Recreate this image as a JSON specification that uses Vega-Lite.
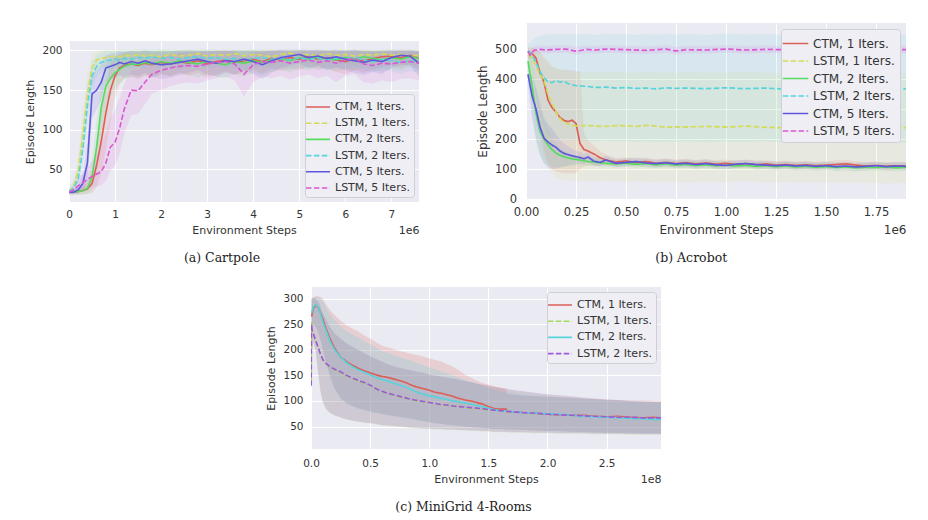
{
  "$schema": "https://vega.github.io/schema/vega-lite/v6.json",
  "background": "white",
  "padding": {"left": 24, "top": 23, "right": 5, "bottom": 5},
  "config": {
    "font": "DejaVu Sans",
    "view": {"stroke": null},
    "axis": {
      "domain": false,
      "ticks": false,
      "gridColor": "#ffffff",
      "gridWidth": 1,
      "labelFont": "DejaVu Sans",
      "titleFont": "DejaVu Sans",
      "labelColor": "#333333",
      "titleColor": "#333333",
      "titleFontWeight": "normal",
      "labelFlush": false,
      "labelOverlap": false
    },
    "legend": {
      "fillColor": "#eeeef4",
      "strokeColor": "#cfcfd7",
      "cornerRadius": 3,
      "padding": 4,
      "rowPadding": 2.2,
      "symbolSize": 256,
      "symbolStrokeWidth": 1.6,
      "labelOffset": 8,
      "labelFont": "DejaVu Sans",
      "labelColor": "#333333",
      "labelLimit": 200
    },
    "title": {
      "orient": "bottom",
      "font": "DejaVu Serif",
      "fontSize": 12.5,
      "fontWeight": "normal",
      "color": "#222222",
      "offset": 16,
      "anchor": "middle",
      "frame": "bounds"
    }
  },
  "datasets": {
    "cartpole": [
      {"series":"CTM, 1 Iters.","x":0,"y":21,"lo":18,"hi":24},
      {"series":"CTM, 1 Iters.","x":0.1,"y":21,"lo":18,"hi":24},
      {"series":"CTM, 1 Iters.","x":0.2,"y":22,"lo":18,"hi":26},
      {"series":"CTM, 1 Iters.","x":0.3,"y":23,"lo":18,"hi":29},
      {"series":"CTM, 1 Iters.","x":0.4,"y":25,"lo":19,"hi":33},
      {"series":"CTM, 1 Iters.","x":0.5,"y":32,"lo":20,"hi":48},
      {"series":"CTM, 1 Iters.","x":0.6,"y":55,"lo":28,"hi":85},
      {"series":"CTM, 1 Iters.","x":0.7,"y":85,"lo":45,"hi":125},
      {"series":"CTM, 1 Iters.","x":0.8,"y":121,"lo":75,"hi":160},
      {"series":"CTM, 1 Iters.","x":0.9,"y":150,"lo":110,"hi":182},
      {"series":"CTM, 1 Iters.","x":1.0,"y":168,"lo":140,"hi":192},
      {"series":"CTM, 1 Iters.","x":1.1,"y":178,"lo":158,"hi":196},
      {"series":"CTM, 1 Iters.","x":1.2,"y":181,"lo":165,"hi":198},
      {"series":"CTM, 1 Iters.","x":1.35,"y":183,"lo":167,"hi":199},
      {"series":"CTM, 1 Iters.","x":1.5,"y":181,"lo":164,"hi":198},
      {"series":"CTM, 1 Iters.","x":1.65,"y":184,"lo":168,"hi":200},
      {"series":"CTM, 1 Iters.","x":1.8,"y":182,"lo":166,"hi":199},
      {"series":"CTM, 1 Iters.","x":2.0,"y":185,"lo":170,"hi":200},
      {"series":"CTM, 1 Iters.","x":2.2,"y":183,"lo":167,"hi":199},
      {"series":"CTM, 1 Iters.","x":2.4,"y":186,"lo":171,"hi":200},
      {"series":"CTM, 1 Iters.","x":2.6,"y":184,"lo":168,"hi":200},
      {"series":"CTM, 1 Iters.","x":2.8,"y":187,"lo":172,"hi":200},
      {"series":"CTM, 1 Iters.","x":3.0,"y":183,"lo":166,"hi":199},
      {"series":"CTM, 1 Iters.","x":3.2,"y":186,"lo":170,"hi":200},
      {"series":"CTM, 1 Iters.","x":3.4,"y":188,"lo":174,"hi":200},
      {"series":"CTM, 1 Iters.","x":3.6,"y":185,"lo":169,"hi":200},
      {"series":"CTM, 1 Iters.","x":3.8,"y":187,"lo":172,"hi":200},
      {"series":"CTM, 1 Iters.","x":4.0,"y":189,"lo":175,"hi":200},
      {"series":"CTM, 1 Iters.","x":4.2,"y":186,"lo":171,"hi":200},
      {"series":"CTM, 1 Iters.","x":4.4,"y":190,"lo":177,"hi":200},
      {"series":"CTM, 1 Iters.","x":4.6,"y":188,"lo":174,"hi":200},
      {"series":"CTM, 1 Iters.","x":4.8,"y":191,"lo":178,"hi":200},
      {"series":"CTM, 1 Iters.","x":5.0,"y":189,"lo":175,"hi":200},
      {"series":"CTM, 1 Iters.","x":5.2,"y":192,"lo":180,"hi":200},
      {"series":"CTM, 1 Iters.","x":5.4,"y":189,"lo":175,"hi":200},
      {"series":"CTM, 1 Iters.","x":5.6,"y":191,"lo":178,"hi":200},
      {"series":"CTM, 1 Iters.","x":5.8,"y":188,"lo":173,"hi":200},
      {"series":"CTM, 1 Iters.","x":6.0,"y":186,"lo":170,"hi":200},
      {"series":"CTM, 1 Iters.","x":6.2,"y":189,"lo":175,"hi":200},
      {"series":"CTM, 1 Iters.","x":6.4,"y":187,"lo":172,"hi":200},
      {"series":"CTM, 1 Iters.","x":6.6,"y":190,"lo":176,"hi":200},
      {"series":"CTM, 1 Iters.","x":6.8,"y":192,"lo":179,"hi":200},
      {"series":"CTM, 1 Iters.","x":7.0,"y":193,"lo":181,"hi":200},
      {"series":"CTM, 1 Iters.","x":7.2,"y":191,"lo":178,"hi":200},
      {"series":"CTM, 1 Iters.","x":7.4,"y":194,"lo":183,"hi":200},
      {"series":"CTM, 1 Iters.","x":7.6,"y":190,"lo":176,"hi":200},

      {"series":"LSTM, 1 Iters.","x":0,"y":21,"lo":18,"hi":25},
      {"series":"LSTM, 1 Iters.","x":0.1,"y":28,"lo":22,"hi":36},
      {"series":"LSTM, 1 Iters.","x":0.2,"y":48,"lo":35,"hi":65},
      {"series":"LSTM, 1 Iters.","x":0.3,"y":95,"lo":70,"hi":125},
      {"series":"LSTM, 1 Iters.","x":0.4,"y":145,"lo":120,"hi":170},
      {"series":"LSTM, 1 Iters.","x":0.5,"y":178,"lo":160,"hi":195},
      {"series":"LSTM, 1 Iters.","x":0.6,"y":188,"lo":175,"hi":200},
      {"series":"LSTM, 1 Iters.","x":0.7,"y":190,"lo":178,"hi":201},
      {"series":"LSTM, 1 Iters.","x":0.8,"y":191,"lo":180,"hi":201},
      {"series":"LSTM, 1 Iters.","x":0.9,"y":192,"lo":181,"hi":201},
      {"series":"LSTM, 1 Iters.","x":1.0,"y":193,"lo":182,"hi":201},
      {"series":"LSTM, 1 Iters.","x":1.1,"y":192,"lo":180,"hi":201},
      {"series":"LSTM, 1 Iters.","x":1.2,"y":194,"lo":183,"hi":201},
      {"series":"LSTM, 1 Iters.","x":1.35,"y":193,"lo":181,"hi":201},
      {"series":"LSTM, 1 Iters.","x":1.5,"y":195,"lo":184,"hi":201},
      {"series":"LSTM, 1 Iters.","x":1.65,"y":193,"lo":181,"hi":201},
      {"series":"LSTM, 1 Iters.","x":1.8,"y":194,"lo":183,"hi":201},
      {"series":"LSTM, 1 Iters.","x":2.0,"y":192,"lo":180,"hi":201},
      {"series":"LSTM, 1 Iters.","x":2.2,"y":195,"lo":184,"hi":201},
      {"series":"LSTM, 1 Iters.","x":2.4,"y":193,"lo":181,"hi":201},
      {"series":"LSTM, 1 Iters.","x":2.6,"y":194,"lo":183,"hi":201},
      {"series":"LSTM, 1 Iters.","x":2.8,"y":196,"lo":186,"hi":201},
      {"series":"LSTM, 1 Iters.","x":3.0,"y":193,"lo":181,"hi":201},
      {"series":"LSTM, 1 Iters.","x":3.2,"y":195,"lo":184,"hi":201},
      {"series":"LSTM, 1 Iters.","x":3.4,"y":194,"lo":183,"hi":201},
      {"series":"LSTM, 1 Iters.","x":3.6,"y":196,"lo":186,"hi":201},
      {"series":"LSTM, 1 Iters.","x":3.8,"y":193,"lo":181,"hi":201},
      {"series":"LSTM, 1 Iters.","x":4.0,"y":195,"lo":184,"hi":201},
      {"series":"LSTM, 1 Iters.","x":4.2,"y":194,"lo":183,"hi":201},
      {"series":"LSTM, 1 Iters.","x":4.4,"y":192,"lo":180,"hi":201},
      {"series":"LSTM, 1 Iters.","x":4.6,"y":195,"lo":184,"hi":201},
      {"series":"LSTM, 1 Iters.","x":4.8,"y":197,"lo":187,"hi":201},
      {"series":"LSTM, 1 Iters.","x":5.0,"y":194,"lo":183,"hi":201},
      {"series":"LSTM, 1 Iters.","x":5.2,"y":195,"lo":184,"hi":201},
      {"series":"LSTM, 1 Iters.","x":5.4,"y":193,"lo":181,"hi":201},
      {"series":"LSTM, 1 Iters.","x":5.6,"y":196,"lo":186,"hi":201},
      {"series":"LSTM, 1 Iters.","x":5.8,"y":194,"lo":183,"hi":201},
      {"series":"LSTM, 1 Iters.","x":6.0,"y":195,"lo":184,"hi":201},
      {"series":"LSTM, 1 Iters.","x":6.2,"y":193,"lo":181,"hi":201},
      {"series":"LSTM, 1 Iters.","x":6.4,"y":195,"lo":184,"hi":201},
      {"series":"LSTM, 1 Iters.","x":6.6,"y":194,"lo":183,"hi":201},
      {"series":"LSTM, 1 Iters.","x":6.8,"y":196,"lo":186,"hi":201},
      {"series":"LSTM, 1 Iters.","x":7.0,"y":194,"lo":183,"hi":201},
      {"series":"LSTM, 1 Iters.","x":7.2,"y":195,"lo":184,"hi":201},
      {"series":"LSTM, 1 Iters.","x":7.4,"y":193,"lo":181,"hi":201},
      {"series":"LSTM, 1 Iters.","x":7.6,"y":194,"lo":183,"hi":201},

      {"series":"CTM, 2 Iters.","x":0,"y":21,"lo":18,"hi":24},
      {"series":"CTM, 2 Iters.","x":0.1,"y":21,"lo":18,"hi":24},
      {"series":"CTM, 2 Iters.","x":0.2,"y":22,"lo":18,"hi":26},
      {"series":"CTM, 2 Iters.","x":0.3,"y":23,"lo":18,"hi":30},
      {"series":"CTM, 2 Iters.","x":0.4,"y":26,"lo":19,"hi":38},
      {"series":"CTM, 2 Iters.","x":0.5,"y":40,"lo":24,"hi":62},
      {"series":"CTM, 2 Iters.","x":0.6,"y":78,"lo":45,"hi":112},
      {"series":"CTM, 2 Iters.","x":0.7,"y":128,"lo":95,"hi":158},
      {"series":"CTM, 2 Iters.","x":0.8,"y":155,"lo":128,"hi":180},
      {"series":"CTM, 2 Iters.","x":0.9,"y":165,"lo":142,"hi":188},
      {"series":"CTM, 2 Iters.","x":1.0,"y":172,"lo":152,"hi":192},
      {"series":"CTM, 2 Iters.","x":1.1,"y":176,"lo":158,"hi":195},
      {"series":"CTM, 2 Iters.","x":1.2,"y":180,"lo":163,"hi":197},
      {"series":"CTM, 2 Iters.","x":1.35,"y":183,"lo":167,"hi":199},
      {"series":"CTM, 2 Iters.","x":1.5,"y":182,"lo":165,"hi":199},
      {"series":"CTM, 2 Iters.","x":1.65,"y":185,"lo":169,"hi":200},
      {"series":"CTM, 2 Iters.","x":1.8,"y":183,"lo":166,"hi":199},
      {"series":"CTM, 2 Iters.","x":2.0,"y":186,"lo":170,"hi":200},
      {"series":"CTM, 2 Iters.","x":2.2,"y":184,"lo":168,"hi":200},
      {"series":"CTM, 2 Iters.","x":2.4,"y":187,"lo":172,"hi":200},
      {"series":"CTM, 2 Iters.","x":2.6,"y":185,"lo":169,"hi":200},
      {"series":"CTM, 2 Iters.","x":2.8,"y":183,"lo":166,"hi":199},
      {"series":"CTM, 2 Iters.","x":3.0,"y":186,"lo":170,"hi":200},
      {"series":"CTM, 2 Iters.","x":3.2,"y":184,"lo":167,"hi":200},
      {"series":"CTM, 2 Iters.","x":3.4,"y":182,"lo":165,"hi":199},
      {"series":"CTM, 2 Iters.","x":3.6,"y":186,"lo":170,"hi":200},
      {"series":"CTM, 2 Iters.","x":3.8,"y":184,"lo":167,"hi":200},
      {"series":"CTM, 2 Iters.","x":4.0,"y":187,"lo":172,"hi":200},
      {"series":"CTM, 2 Iters.","x":4.2,"y":185,"lo":169,"hi":200},
      {"series":"CTM, 2 Iters.","x":4.4,"y":188,"lo":173,"hi":200},
      {"series":"CTM, 2 Iters.","x":4.6,"y":190,"lo":176,"hi":200},
      {"series":"CTM, 2 Iters.","x":4.8,"y":187,"lo":172,"hi":200},
      {"series":"CTM, 2 Iters.","x":5.0,"y":191,"lo":177,"hi":200},
      {"series":"CTM, 2 Iters.","x":5.2,"y":189,"lo":175,"hi":200},
      {"series":"CTM, 2 Iters.","x":5.4,"y":192,"lo":179,"hi":200},
      {"series":"CTM, 2 Iters.","x":5.6,"y":190,"lo":176,"hi":200},
      {"series":"CTM, 2 Iters.","x":5.8,"y":188,"lo":173,"hi":200},
      {"series":"CTM, 2 Iters.","x":6.0,"y":191,"lo":177,"hi":200},
      {"series":"CTM, 2 Iters.","x":6.2,"y":189,"lo":175,"hi":200},
      {"series":"CTM, 2 Iters.","x":6.4,"y":192,"lo":179,"hi":200},
      {"series":"CTM, 2 Iters.","x":6.6,"y":190,"lo":176,"hi":200},
      {"series":"CTM, 2 Iters.","x":6.8,"y":188,"lo":173,"hi":200},
      {"series":"CTM, 2 Iters.","x":7.0,"y":191,"lo":177,"hi":200},
      {"series":"CTM, 2 Iters.","x":7.2,"y":189,"lo":175,"hi":200},
      {"series":"CTM, 2 Iters.","x":7.4,"y":192,"lo":179,"hi":200},
      {"series":"CTM, 2 Iters.","x":7.6,"y":190,"lo":176,"hi":200},

      {"series":"LSTM, 2 Iters.","x":0,"y":22,"lo":18,"hi":27},
      {"series":"LSTM, 2 Iters.","x":0.1,"y":26,"lo":20,"hi":34},
      {"series":"LSTM, 2 Iters.","x":0.2,"y":38,"lo":28,"hi":52},
      {"series":"LSTM, 2 Iters.","x":0.3,"y":75,"lo":55,"hi":100},
      {"series":"LSTM, 2 Iters.","x":0.4,"y":130,"lo":105,"hi":155},
      {"series":"LSTM, 2 Iters.","x":0.5,"y":168,"lo":150,"hi":185},
      {"series":"LSTM, 2 Iters.","x":0.6,"y":180,"lo":166,"hi":194},
      {"series":"LSTM, 2 Iters.","x":0.7,"y":185,"lo":172,"hi":198},
      {"series":"LSTM, 2 Iters.","x":0.8,"y":187,"lo":175,"hi":200},
      {"series":"LSTM, 2 Iters.","x":0.9,"y":188,"lo":176,"hi":200},
      {"series":"LSTM, 2 Iters.","x":1.0,"y":189,"lo":177,"hi":200},
      {"series":"LSTM, 2 Iters.","x":1.1,"y":188,"lo":176,"hi":200},
      {"series":"LSTM, 2 Iters.","x":1.2,"y":190,"lo":178,"hi":201},
      {"series":"LSTM, 2 Iters.","x":1.35,"y":189,"lo":177,"hi":200},
      {"series":"LSTM, 2 Iters.","x":1.5,"y":191,"lo":179,"hi":201},
      {"series":"LSTM, 2 Iters.","x":1.65,"y":190,"lo":178,"hi":201},
      {"series":"LSTM, 2 Iters.","x":1.8,"y":192,"lo":181,"hi":201},
      {"series":"LSTM, 2 Iters.","x":2.0,"y":190,"lo":178,"hi":201},
      {"series":"LSTM, 2 Iters.","x":2.2,"y":191,"lo":179,"hi":201},
      {"series":"LSTM, 2 Iters.","x":2.4,"y":189,"lo":177,"hi":200},
      {"series":"LSTM, 2 Iters.","x":2.6,"y":191,"lo":179,"hi":201},
      {"series":"LSTM, 2 Iters.","x":2.8,"y":192,"lo":181,"hi":201},
      {"series":"LSTM, 2 Iters.","x":3.0,"y":190,"lo":178,"hi":201},
      {"series":"LSTM, 2 Iters.","x":3.2,"y":191,"lo":179,"hi":201},
      {"series":"LSTM, 2 Iters.","x":3.4,"y":189,"lo":177,"hi":200},
      {"series":"LSTM, 2 Iters.","x":3.6,"y":190,"lo":178,"hi":201},
      {"series":"LSTM, 2 Iters.","x":3.8,"y":188,"lo":175,"hi":200},
      {"series":"LSTM, 2 Iters.","x":4.0,"y":190,"lo":178,"hi":201},
      {"series":"LSTM, 2 Iters.","x":4.2,"y":191,"lo":179,"hi":201},
      {"series":"LSTM, 2 Iters.","x":4.4,"y":189,"lo":177,"hi":200},
      {"series":"LSTM, 2 Iters.","x":4.6,"y":190,"lo":178,"hi":201},
      {"series":"LSTM, 2 Iters.","x":4.8,"y":188,"lo":175,"hi":200},
      {"series":"LSTM, 2 Iters.","x":5.0,"y":191,"lo":179,"hi":201},
      {"series":"LSTM, 2 Iters.","x":5.2,"y":189,"lo":177,"hi":200},
      {"series":"LSTM, 2 Iters.","x":5.4,"y":190,"lo":178,"hi":201},
      {"series":"LSTM, 2 Iters.","x":5.6,"y":188,"lo":175,"hi":200},
      {"series":"LSTM, 2 Iters.","x":5.8,"y":190,"lo":178,"hi":201},
      {"series":"LSTM, 2 Iters.","x":6.0,"y":189,"lo":177,"hi":200},
      {"series":"LSTM, 2 Iters.","x":6.2,"y":191,"lo":179,"hi":201},
      {"series":"LSTM, 2 Iters.","x":6.4,"y":188,"lo":175,"hi":200},
      {"series":"LSTM, 2 Iters.","x":6.6,"y":186,"lo":172,"hi":199},
      {"series":"LSTM, 2 Iters.","x":6.8,"y":189,"lo":177,"hi":200},
      {"series":"LSTM, 2 Iters.","x":7.0,"y":187,"lo":174,"hi":200},
      {"series":"LSTM, 2 Iters.","x":7.2,"y":185,"lo":170,"hi":199},
      {"series":"LSTM, 2 Iters.","x":7.4,"y":187,"lo":174,"hi":200},
      {"series":"LSTM, 2 Iters.","x":7.6,"y":186,"lo":172,"hi":199},

      {"series":"CTM, 5 Iters.","x":0,"y":21,"lo":18,"hi":24},
      {"series":"CTM, 5 Iters.","x":0.1,"y":21,"lo":18,"hi":25},
      {"series":"CTM, 5 Iters.","x":0.2,"y":24,"lo":19,"hi":30},
      {"series":"CTM, 5 Iters.","x":0.3,"y":32,"lo":22,"hi":45},
      {"series":"CTM, 5 Iters.","x":0.4,"y":58,"lo":35,"hi":85},
      {"series":"CTM, 5 Iters.","x":0.5,"y":145,"lo":115,"hi":170},
      {"series":"CTM, 5 Iters.","x":0.6,"y":150,"lo":125,"hi":175},
      {"series":"CTM, 5 Iters.","x":0.7,"y":160,"lo":138,"hi":182},
      {"series":"CTM, 5 Iters.","x":0.8,"y":178,"lo":160,"hi":194},
      {"series":"CTM, 5 Iters.","x":0.9,"y":180,"lo":163,"hi":196},
      {"series":"CTM, 5 Iters.","x":1.0,"y":182,"lo":165,"hi":197},
      {"series":"CTM, 5 Iters.","x":1.1,"y":185,"lo":169,"hi":199},
      {"series":"CTM, 5 Iters.","x":1.2,"y":183,"lo":166,"hi":198},
      {"series":"CTM, 5 Iters.","x":1.35,"y":186,"lo":170,"hi":200},
      {"series":"CTM, 5 Iters.","x":1.5,"y":184,"lo":167,"hi":199},
      {"series":"CTM, 5 Iters.","x":1.65,"y":187,"lo":172,"hi":200},
      {"series":"CTM, 5 Iters.","x":1.8,"y":184,"lo":167,"hi":199},
      {"series":"CTM, 5 Iters.","x":2.0,"y":182,"lo":164,"hi":198},
      {"series":"CTM, 5 Iters.","x":2.2,"y":183,"lo":166,"hi":199},
      {"series":"CTM, 5 Iters.","x":2.4,"y":185,"lo":169,"hi":200},
      {"series":"CTM, 5 Iters.","x":2.6,"y":187,"lo":172,"hi":200},
      {"series":"CTM, 5 Iters.","x":2.8,"y":189,"lo":175,"hi":200},
      {"series":"CTM, 5 Iters.","x":3.0,"y":186,"lo":170,"hi":200},
      {"series":"CTM, 5 Iters.","x":3.2,"y":184,"lo":167,"hi":199},
      {"series":"CTM, 5 Iters.","x":3.4,"y":187,"lo":172,"hi":200},
      {"series":"CTM, 5 Iters.","x":3.6,"y":186,"lo":170,"hi":200},
      {"series":"CTM, 5 Iters.","x":3.8,"y":189,"lo":175,"hi":200},
      {"series":"CTM, 5 Iters.","x":4.0,"y":186,"lo":170,"hi":200},
      {"series":"CTM, 5 Iters.","x":4.2,"y":182,"lo":164,"hi":198},
      {"series":"CTM, 5 Iters.","x":4.4,"y":187,"lo":172,"hi":200},
      {"series":"CTM, 5 Iters.","x":4.6,"y":191,"lo":178,"hi":201},
      {"series":"CTM, 5 Iters.","x":4.8,"y":193,"lo":181,"hi":201},
      {"series":"CTM, 5 Iters.","x":5.0,"y":195,"lo":184,"hi":201},
      {"series":"CTM, 5 Iters.","x":5.2,"y":191,"lo":178,"hi":201},
      {"series":"CTM, 5 Iters.","x":5.4,"y":193,"lo":181,"hi":201},
      {"series":"CTM, 5 Iters.","x":5.6,"y":190,"lo":176,"hi":200},
      {"series":"CTM, 5 Iters.","x":5.8,"y":192,"lo":179,"hi":201},
      {"series":"CTM, 5 Iters.","x":6.0,"y":189,"lo":175,"hi":200},
      {"series":"CTM, 5 Iters.","x":6.2,"y":187,"lo":172,"hi":200},
      {"series":"CTM, 5 Iters.","x":6.4,"y":185,"lo":169,"hi":200},
      {"series":"CTM, 5 Iters.","x":6.6,"y":188,"lo":173,"hi":200},
      {"series":"CTM, 5 Iters.","x":6.8,"y":186,"lo":170,"hi":200},
      {"series":"CTM, 5 Iters.","x":7.0,"y":191,"lo":178,"hi":201},
      {"series":"CTM, 5 Iters.","x":7.2,"y":194,"lo":182,"hi":201},
      {"series":"CTM, 5 Iters.","x":7.4,"y":193,"lo":181,"hi":201},
      {"series":"CTM, 5 Iters.","x":7.6,"y":184,"lo":167,"hi":199},

      {"series":"LSTM, 5 Iters.","x":0,"y":21,"lo":18,"hi":25},
      {"series":"LSTM, 5 Iters.","x":0.1,"y":24,"lo":19,"hi":30},
      {"series":"LSTM, 5 Iters.","x":0.2,"y":29,"lo":21,"hi":38},
      {"series":"LSTM, 5 Iters.","x":0.3,"y":33,"lo":23,"hi":45},
      {"series":"LSTM, 5 Iters.","x":0.4,"y":37,"lo":25,"hi":52},
      {"series":"LSTM, 5 Iters.","x":0.5,"y":41,"lo":27,"hi":60},
      {"series":"LSTM, 5 Iters.","x":0.6,"y":44,"lo":28,"hi":68},
      {"series":"LSTM, 5 Iters.","x":0.7,"y":47,"lo":30,"hi":80},
      {"series":"LSTM, 5 Iters.","x":0.8,"y":58,"lo":35,"hi":95},
      {"series":"LSTM, 5 Iters.","x":0.9,"y":78,"lo":48,"hi":115},
      {"series":"LSTM, 5 Iters.","x":1.0,"y":84,"lo":55,"hi":125},
      {"series":"LSTM, 5 Iters.","x":1.1,"y":102,"lo":70,"hi":140},
      {"series":"LSTM, 5 Iters.","x":1.2,"y":126,"lo":95,"hi":158},
      {"series":"LSTM, 5 Iters.","x":1.35,"y":150,"lo":118,"hi":175},
      {"series":"LSTM, 5 Iters.","x":1.5,"y":149,"lo":120,"hi":176},
      {"series":"LSTM, 5 Iters.","x":1.65,"y":160,"lo":132,"hi":183},
      {"series":"LSTM, 5 Iters.","x":1.8,"y":170,"lo":145,"hi":190},
      {"series":"LSTM, 5 Iters.","x":2.0,"y":175,"lo":150,"hi":193},
      {"series":"LSTM, 5 Iters.","x":2.2,"y":178,"lo":155,"hi":195},
      {"series":"LSTM, 5 Iters.","x":2.4,"y":180,"lo":158,"hi":197},
      {"series":"LSTM, 5 Iters.","x":2.6,"y":181,"lo":160,"hi":198},
      {"series":"LSTM, 5 Iters.","x":2.8,"y":180,"lo":158,"hi":197},
      {"series":"LSTM, 5 Iters.","x":3.0,"y":183,"lo":162,"hi":199},
      {"series":"LSTM, 5 Iters.","x":3.2,"y":185,"lo":165,"hi":200},
      {"series":"LSTM, 5 Iters.","x":3.4,"y":186,"lo":167,"hi":200},
      {"series":"LSTM, 5 Iters.","x":3.6,"y":183,"lo":162,"hi":199},
      {"series":"LSTM, 5 Iters.","x":3.8,"y":170,"lo":142,"hi":192},
      {"series":"LSTM, 5 Iters.","x":4.0,"y":182,"lo":160,"hi":198},
      {"series":"LSTM, 5 Iters.","x":4.2,"y":186,"lo":167,"hi":200},
      {"series":"LSTM, 5 Iters.","x":4.4,"y":185,"lo":165,"hi":200},
      {"series":"LSTM, 5 Iters.","x":4.6,"y":187,"lo":168,"hi":200},
      {"series":"LSTM, 5 Iters.","x":4.8,"y":184,"lo":163,"hi":199},
      {"series":"LSTM, 5 Iters.","x":5.0,"y":186,"lo":167,"hi":200},
      {"series":"LSTM, 5 Iters.","x":5.2,"y":188,"lo":170,"hi":200},
      {"series":"LSTM, 5 Iters.","x":5.4,"y":185,"lo":165,"hi":200},
      {"series":"LSTM, 5 Iters.","x":5.6,"y":187,"lo":168,"hi":200},
      {"series":"LSTM, 5 Iters.","x":5.8,"y":184,"lo":160,"hi":199},
      {"series":"LSTM, 5 Iters.","x":6.0,"y":188,"lo":168,"hi":200},
      {"series":"LSTM, 5 Iters.","x":6.2,"y":190,"lo":170,"hi":201},
      {"series":"LSTM, 5 Iters.","x":6.4,"y":183,"lo":160,"hi":199},
      {"series":"LSTM, 5 Iters.","x":6.6,"y":181,"lo":158,"hi":198},
      {"series":"LSTM, 5 Iters.","x":6.8,"y":184,"lo":162,"hi":199},
      {"series":"LSTM, 5 Iters.","x":7.0,"y":183,"lo":160,"hi":199},
      {"series":"LSTM, 5 Iters.","x":7.2,"y":185,"lo":164,"hi":200},
      {"series":"LSTM, 5 Iters.","x":7.4,"y":186,"lo":165,"hi":200},
      {"series":"LSTM, 5 Iters.","x":7.6,"y":184,"lo":162,"hi":199}
    ],
    "acrobot": [
      {"series":"CTM, 1 Iters.","x":0.01,"y":492,"lo":470,"hi":505},
      {"series":"CTM, 1 Iters.","x":0.03,"y":485,"lo":420,"hi":505},
      {"series":"CTM, 1 Iters.","x":0.05,"y":470,"lo":330,"hi":502},
      {"series":"CTM, 1 Iters.","x":0.07,"y":420,"lo":230,"hi":490},
      {"series":"CTM, 1 Iters.","x":0.09,"y":390,"lo":160,"hi":470},
      {"series":"CTM, 1 Iters.","x":0.11,"y":330,"lo":120,"hi":455},
      {"series":"CTM, 1 Iters.","x":0.13,"y":305,"lo":100,"hi":440},
      {"series":"CTM, 1 Iters.","x":0.15,"y":290,"lo":92,"hi":435},
      {"series":"CTM, 1 Iters.","x":0.17,"y":272,"lo":88,"hi":432},
      {"series":"CTM, 1 Iters.","x":0.19,"y":262,"lo":86,"hi":432},
      {"series":"CTM, 1 Iters.","x":0.21,"y":258,"lo":85,"hi":430},
      {"series":"CTM, 1 Iters.","x":0.23,"y":263,"lo":85,"hi":430},
      {"series":"CTM, 1 Iters.","x":0.25,"y":252,"lo":86,"hi":428},
      {"series":"CTM, 1 Iters.","x":0.27,"y":185,"lo":100,"hi":425},
      {"series":"CTM, 1 Iters.","x":0.29,"y":165,"lo":108,"hi":220},
      {"series":"CTM, 1 Iters.","x":0.31,"y":160,"lo":110,"hi":195},
      {"series":"CTM, 1 Iters.","x":0.34,"y":150,"lo":110,"hi":178},
      {"series":"CTM, 1 Iters.","x":0.37,"y":138,"lo":112,"hi":160},
      {"series":"CTM, 1 Iters.","x":0.40,"y":130,"lo":112,"hi":148},
      {"series":"CTM, 1 Iters.","x":0.45,"y":123,"lo":110,"hi":137},
      {"series":"CTM, 1 Iters.","x":0.50,"y":127,"lo":114,"hi":140},
      {"series":"CTM, 1 Iters.","x":0.55,"y":121,"lo":109,"hi":134},
      {"series":"CTM, 1 Iters.","x":0.60,"y":125,"lo":113,"hi":138},
      {"series":"CTM, 1 Iters.","x":0.65,"y":119,"lo":107,"hi":132},
      {"series":"CTM, 1 Iters.","x":0.70,"y":122,"lo":110,"hi":135},
      {"series":"CTM, 1 Iters.","x":0.75,"y":118,"lo":106,"hi":131},
      {"series":"CTM, 1 Iters.","x":0.80,"y":121,"lo":109,"hi":134},
      {"series":"CTM, 1 Iters.","x":0.85,"y":117,"lo":105,"hi":130},
      {"series":"CTM, 1 Iters.","x":0.90,"y":120,"lo":108,"hi":133},
      {"series":"CTM, 1 Iters.","x":0.95,"y":116,"lo":104,"hi":129},
      {"series":"CTM, 1 Iters.","x":1.00,"y":119,"lo":107,"hi":132},
      {"series":"CTM, 1 Iters.","x":1.05,"y":115,"lo":103,"hi":128},
      {"series":"CTM, 1 Iters.","x":1.10,"y":118,"lo":106,"hi":131},
      {"series":"CTM, 1 Iters.","x":1.15,"y":114,"lo":102,"hi":127},
      {"series":"CTM, 1 Iters.","x":1.20,"y":117,"lo":105,"hi":130},
      {"series":"CTM, 1 Iters.","x":1.25,"y":113,"lo":101,"hi":126},
      {"series":"CTM, 1 Iters.","x":1.30,"y":115,"lo":103,"hi":128},
      {"series":"CTM, 1 Iters.","x":1.35,"y":112,"lo":100,"hi":125},
      {"series":"CTM, 1 Iters.","x":1.40,"y":114,"lo":102,"hi":127},
      {"series":"CTM, 1 Iters.","x":1.45,"y":111,"lo":99,"hi":124},
      {"series":"CTM, 1 Iters.","x":1.50,"y":113,"lo":101,"hi":126},
      {"series":"CTM, 1 Iters.","x":1.55,"y":115,"lo":103,"hi":128},
      {"series":"CTM, 1 Iters.","x":1.60,"y":117,"lo":105,"hi":130},
      {"series":"CTM, 1 Iters.","x":1.65,"y":113,"lo":101,"hi":126},
      {"series":"CTM, 1 Iters.","x":1.70,"y":110,"lo":98,"hi":123},
      {"series":"CTM, 1 Iters.","x":1.75,"y":112,"lo":100,"hi":125},
      {"series":"CTM, 1 Iters.","x":1.80,"y":109,"lo":97,"hi":122},
      {"series":"CTM, 1 Iters.","x":1.85,"y":111,"lo":99,"hi":124},
      {"series":"CTM, 1 Iters.","x":1.90,"y":110,"lo":98,"hi":123},

      {"series":"LSTM, 1 Iters.","x":0.01,"y":482,"lo":450,"hi":510},
      {"series":"LSTM, 1 Iters.","x":0.03,"y":470,"lo":390,"hi":505},
      {"series":"LSTM, 1 Iters.","x":0.05,"y":445,"lo":300,"hi":500},
      {"series":"LSTM, 1 Iters.","x":0.07,"y":415,"lo":200,"hi":490},
      {"series":"LSTM, 1 Iters.","x":0.09,"y":395,"lo":140,"hi":478},
      {"series":"LSTM, 1 Iters.","x":0.11,"y":350,"lo":105,"hi":462},
      {"series":"LSTM, 1 Iters.","x":0.13,"y":318,"lo":85,"hi":450},
      {"series":"LSTM, 1 Iters.","x":0.15,"y":290,"lo":72,"hi":440},
      {"series":"LSTM, 1 Iters.","x":0.17,"y":268,"lo":66,"hi":432},
      {"series":"LSTM, 1 Iters.","x":0.19,"y":255,"lo":63,"hi":428},
      {"series":"LSTM, 1 Iters.","x":0.21,"y":250,"lo":62,"hi":426},
      {"series":"LSTM, 1 Iters.","x":0.23,"y":246,"lo":60,"hi":424},
      {"series":"LSTM, 1 Iters.","x":0.25,"y":244,"lo":61,"hi":425},
      {"series":"LSTM, 1 Iters.","x":0.30,"y":245,"lo":60,"hi":423},
      {"series":"LSTM, 1 Iters.","x":0.35,"y":243,"lo":58,"hi":425},
      {"series":"LSTM, 1 Iters.","x":0.40,"y":242,"lo":61,"hi":422},
      {"series":"LSTM, 1 Iters.","x":0.45,"y":245,"lo":59,"hi":426},
      {"series":"LSTM, 1 Iters.","x":0.50,"y":244,"lo":57,"hi":424},
      {"series":"LSTM, 1 Iters.","x":0.55,"y":242,"lo":60,"hi":421},
      {"series":"LSTM, 1 Iters.","x":0.60,"y":246,"lo":58,"hi":425},
      {"series":"LSTM, 1 Iters.","x":0.65,"y":243,"lo":56,"hi":423},
      {"series":"LSTM, 1 Iters.","x":0.70,"y":239,"lo":59,"hi":420},
      {"series":"LSTM, 1 Iters.","x":0.75,"y":241,"lo":57,"hi":422},
      {"series":"LSTM, 1 Iters.","x":0.80,"y":240,"lo":55,"hi":424},
      {"series":"LSTM, 1 Iters.","x":0.90,"y":242,"lo":58,"hi":421},
      {"series":"LSTM, 1 Iters.","x":1.00,"y":240,"lo":56,"hi":423},
      {"series":"LSTM, 1 Iters.","x":1.10,"y":243,"lo":59,"hi":425},
      {"series":"LSTM, 1 Iters.","x":1.20,"y":239,"lo":55,"hi":421},
      {"series":"LSTM, 1 Iters.","x":1.30,"y":237,"lo":57,"hi":419},
      {"series":"LSTM, 1 Iters.","x":1.40,"y":242,"lo":54,"hi":423},
      {"series":"LSTM, 1 Iters.","x":1.50,"y":240,"lo":56,"hi":420},
      {"series":"LSTM, 1 Iters.","x":1.60,"y":244,"lo":53,"hi":424},
      {"series":"LSTM, 1 Iters.","x":1.70,"y":241,"lo":55,"hi":421},
      {"series":"LSTM, 1 Iters.","x":1.80,"y":239,"lo":52,"hi":419},
      {"series":"LSTM, 1 Iters.","x":1.90,"y":238,"lo":54,"hi":420},

      {"series":"CTM, 2 Iters.","x":0.01,"y":460,"lo":420,"hi":500},
      {"series":"CTM, 2 Iters.","x":0.03,"y":380,"lo":290,"hi":450},
      {"series":"CTM, 2 Iters.","x":0.05,"y":285,"lo":190,"hi":360},
      {"series":"CTM, 2 Iters.","x":0.07,"y":225,"lo":140,"hi":300},
      {"series":"CTM, 2 Iters.","x":0.09,"y":200,"lo":120,"hi":262},
      {"series":"CTM, 2 Iters.","x":0.11,"y":180,"lo":112,"hi":232},
      {"series":"CTM, 2 Iters.","x":0.13,"y":165,"lo":108,"hi":205},
      {"series":"CTM, 2 Iters.","x":0.15,"y":153,"lo":106,"hi":185},
      {"series":"CTM, 2 Iters.","x":0.17,"y":146,"lo":106,"hi":172},
      {"series":"CTM, 2 Iters.","x":0.19,"y":141,"lo":107,"hi":162},
      {"series":"CTM, 2 Iters.","x":0.21,"y":137,"lo":108,"hi":155},
      {"series":"CTM, 2 Iters.","x":0.23,"y":134,"lo":110,"hi":150},
      {"series":"CTM, 2 Iters.","x":0.25,"y":132,"lo":112,"hi":147},
      {"series":"CTM, 2 Iters.","x":0.27,"y":130,"lo":113,"hi":145},
      {"series":"CTM, 2 Iters.","x":0.29,"y":127,"lo":112,"hi":142},
      {"series":"CTM, 2 Iters.","x":0.31,"y":125,"lo":112,"hi":139},
      {"series":"CTM, 2 Iters.","x":0.34,"y":123,"lo":111,"hi":136},
      {"series":"CTM, 2 Iters.","x":0.37,"y":121,"lo":109,"hi":134},
      {"series":"CTM, 2 Iters.","x":0.40,"y":119,"lo":107,"hi":132},
      {"series":"CTM, 2 Iters.","x":0.45,"y":117,"lo":105,"hi":130},
      {"series":"CTM, 2 Iters.","x":0.50,"y":119,"lo":107,"hi":132},
      {"series":"CTM, 2 Iters.","x":0.55,"y":116,"lo":104,"hi":129},
      {"series":"CTM, 2 Iters.","x":0.60,"y":118,"lo":106,"hi":131},
      {"series":"CTM, 2 Iters.","x":0.65,"y":114,"lo":102,"hi":127},
      {"series":"CTM, 2 Iters.","x":0.70,"y":117,"lo":105,"hi":130},
      {"series":"CTM, 2 Iters.","x":0.75,"y":113,"lo":101,"hi":126},
      {"series":"CTM, 2 Iters.","x":0.80,"y":115,"lo":103,"hi":128},
      {"series":"CTM, 2 Iters.","x":0.85,"y":112,"lo":100,"hi":125},
      {"series":"CTM, 2 Iters.","x":0.90,"y":114,"lo":102,"hi":127},
      {"series":"CTM, 2 Iters.","x":0.95,"y":111,"lo":99,"hi":124},
      {"series":"CTM, 2 Iters.","x":1.00,"y":113,"lo":101,"hi":126},
      {"series":"CTM, 2 Iters.","x":1.05,"y":110,"lo":98,"hi":123},
      {"series":"CTM, 2 Iters.","x":1.10,"y":112,"lo":100,"hi":125},
      {"series":"CTM, 2 Iters.","x":1.15,"y":109,"lo":97,"hi":122},
      {"series":"CTM, 2 Iters.","x":1.20,"y":111,"lo":99,"hi":124},
      {"series":"CTM, 2 Iters.","x":1.25,"y":108,"lo":96,"hi":121},
      {"series":"CTM, 2 Iters.","x":1.30,"y":110,"lo":98,"hi":123},
      {"series":"CTM, 2 Iters.","x":1.35,"y":107,"lo":95,"hi":120},
      {"series":"CTM, 2 Iters.","x":1.40,"y":109,"lo":97,"hi":122},
      {"series":"CTM, 2 Iters.","x":1.45,"y":106,"lo":94,"hi":119},
      {"series":"CTM, 2 Iters.","x":1.50,"y":108,"lo":96,"hi":121},
      {"series":"CTM, 2 Iters.","x":1.55,"y":105,"lo":93,"hi":118},
      {"series":"CTM, 2 Iters.","x":1.60,"y":107,"lo":95,"hi":120},
      {"series":"CTM, 2 Iters.","x":1.65,"y":104,"lo":92,"hi":117},
      {"series":"CTM, 2 Iters.","x":1.70,"y":106,"lo":94,"hi":119},
      {"series":"CTM, 2 Iters.","x":1.75,"y":105,"lo":93,"hi":118},
      {"series":"CTM, 2 Iters.","x":1.80,"y":107,"lo":95,"hi":120},
      {"series":"CTM, 2 Iters.","x":1.85,"y":104,"lo":92,"hi":117},
      {"series":"CTM, 2 Iters.","x":1.90,"y":106,"lo":94,"hi":119},

      {"series":"LSTM, 2 Iters.","x":0.01,"y":495,"lo":470,"hi":515},
      {"series":"LSTM, 2 Iters.","x":0.03,"y":480,"lo":420,"hi":530},
      {"series":"LSTM, 2 Iters.","x":0.05,"y":455,"lo":350,"hi":540},
      {"series":"LSTM, 2 Iters.","x":0.07,"y":425,"lo":290,"hi":545},
      {"series":"LSTM, 2 Iters.","x":0.09,"y":405,"lo":240,"hi":548},
      {"series":"LSTM, 2 Iters.","x":0.11,"y":390,"lo":215,"hi":550},
      {"series":"LSTM, 2 Iters.","x":0.13,"y":388,"lo":205,"hi":548},
      {"series":"LSTM, 2 Iters.","x":0.15,"y":395,"lo":200,"hi":551},
      {"series":"LSTM, 2 Iters.","x":0.17,"y":390,"lo":198,"hi":549},
      {"series":"LSTM, 2 Iters.","x":0.19,"y":392,"lo":196,"hi":550},
      {"series":"LSTM, 2 Iters.","x":0.21,"y":385,"lo":195,"hi":548},
      {"series":"LSTM, 2 Iters.","x":0.23,"y":381,"lo":194,"hi":551},
      {"series":"LSTM, 2 Iters.","x":0.25,"y":378,"lo":195,"hi":549},
      {"series":"LSTM, 2 Iters.","x":0.30,"y":376,"lo":193,"hi":550},
      {"series":"LSTM, 2 Iters.","x":0.35,"y":372,"lo":192,"hi":548},
      {"series":"LSTM, 2 Iters.","x":0.40,"y":373,"lo":194,"hi":551},
      {"series":"LSTM, 2 Iters.","x":0.45,"y":370,"lo":191,"hi":549},
      {"series":"LSTM, 2 Iters.","x":0.50,"y":372,"lo":193,"hi":550},
      {"series":"LSTM, 2 Iters.","x":0.55,"y":369,"lo":190,"hi":547},
      {"series":"LSTM, 2 Iters.","x":0.60,"y":370,"lo":192,"hi":550},
      {"series":"LSTM, 2 Iters.","x":0.65,"y":367,"lo":189,"hi":548},
      {"series":"LSTM, 2 Iters.","x":0.70,"y":371,"lo":191,"hi":551},
      {"series":"LSTM, 2 Iters.","x":0.75,"y":369,"lo":190,"hi":549},
      {"series":"LSTM, 2 Iters.","x":0.80,"y":370,"lo":192,"hi":550},
      {"series":"LSTM, 2 Iters.","x":0.90,"y":368,"lo":189,"hi":548},
      {"series":"LSTM, 2 Iters.","x":1.00,"y":371,"lo":191,"hi":551},
      {"series":"LSTM, 2 Iters.","x":1.10,"y":368,"lo":190,"hi":549},
      {"series":"LSTM, 2 Iters.","x":1.20,"y":370,"lo":192,"hi":550},
      {"series":"LSTM, 2 Iters.","x":1.30,"y":366,"lo":188,"hi":547},
      {"series":"LSTM, 2 Iters.","x":1.40,"y":369,"lo":190,"hi":550},
      {"series":"LSTM, 2 Iters.","x":1.50,"y":367,"lo":189,"hi":548},
      {"series":"LSTM, 2 Iters.","x":1.60,"y":370,"lo":191,"hi":551},
      {"series":"LSTM, 2 Iters.","x":1.70,"y":368,"lo":188,"hi":549},
      {"series":"LSTM, 2 Iters.","x":1.80,"y":366,"lo":187,"hi":547},
      {"series":"LSTM, 2 Iters.","x":1.90,"y":367,"lo":188,"hi":548},

      {"series":"CTM, 5 Iters.","x":0.01,"y":416,"lo":380,"hi":450},
      {"series":"CTM, 5 Iters.","x":0.03,"y":345,"lo":270,"hi":410},
      {"series":"CTM, 5 Iters.","x":0.05,"y":300,"lo":200,"hi":370},
      {"series":"CTM, 5 Iters.","x":0.07,"y":240,"lo":150,"hi":320},
      {"series":"CTM, 5 Iters.","x":0.09,"y":203,"lo":118,"hi":270},
      {"series":"CTM, 5 Iters.","x":0.11,"y":190,"lo":105,"hi":250},
      {"series":"CTM, 5 Iters.","x":0.13,"y":180,"lo":100,"hi":235},
      {"series":"CTM, 5 Iters.","x":0.15,"y":172,"lo":102,"hi":215},
      {"series":"CTM, 5 Iters.","x":0.17,"y":160,"lo":105,"hi":198},
      {"series":"CTM, 5 Iters.","x":0.19,"y":152,"lo":108,"hi":185},
      {"series":"CTM, 5 Iters.","x":0.21,"y":148,"lo":112,"hi":176},
      {"series":"CTM, 5 Iters.","x":0.23,"y":144,"lo":115,"hi":168},
      {"series":"CTM, 5 Iters.","x":0.25,"y":141,"lo":117,"hi":162},
      {"series":"CTM, 5 Iters.","x":0.27,"y":138,"lo":118,"hi":157},
      {"series":"CTM, 5 Iters.","x":0.29,"y":134,"lo":117,"hi":151},
      {"series":"CTM, 5 Iters.","x":0.31,"y":140,"lo":122,"hi":156},
      {"series":"CTM, 5 Iters.","x":0.34,"y":126,"lo":112,"hi":141},
      {"series":"CTM, 5 Iters.","x":0.37,"y":122,"lo":109,"hi":136},
      {"series":"CTM, 5 Iters.","x":0.40,"y":130,"lo":116,"hi":144},
      {"series":"CTM, 5 Iters.","x":0.45,"y":119,"lo":106,"hi":132},
      {"series":"CTM, 5 Iters.","x":0.50,"y":122,"lo":109,"hi":135},
      {"series":"CTM, 5 Iters.","x":0.55,"y":125,"lo":112,"hi":138},
      {"series":"CTM, 5 Iters.","x":0.60,"y":120,"lo":107,"hi":133},
      {"series":"CTM, 5 Iters.","x":0.65,"y":118,"lo":105,"hi":131},
      {"series":"CTM, 5 Iters.","x":0.70,"y":121,"lo":108,"hi":134},
      {"series":"CTM, 5 Iters.","x":0.75,"y":117,"lo":104,"hi":130},
      {"series":"CTM, 5 Iters.","x":0.80,"y":119,"lo":106,"hi":132},
      {"series":"CTM, 5 Iters.","x":0.85,"y":115,"lo":102,"hi":128},
      {"series":"CTM, 5 Iters.","x":0.90,"y":118,"lo":105,"hi":131},
      {"series":"CTM, 5 Iters.","x":0.95,"y":114,"lo":101,"hi":127},
      {"series":"CTM, 5 Iters.","x":1.00,"y":112,"lo":99,"hi":125},
      {"series":"CTM, 5 Iters.","x":1.05,"y":116,"lo":103,"hi":129},
      {"series":"CTM, 5 Iters.","x":1.10,"y":118,"lo":105,"hi":131},
      {"series":"CTM, 5 Iters.","x":1.15,"y":115,"lo":102,"hi":128},
      {"series":"CTM, 5 Iters.","x":1.20,"y":113,"lo":100,"hi":126},
      {"series":"CTM, 5 Iters.","x":1.25,"y":111,"lo":98,"hi":124},
      {"series":"CTM, 5 Iters.","x":1.30,"y":113,"lo":100,"hi":126},
      {"series":"CTM, 5 Iters.","x":1.35,"y":110,"lo":97,"hi":123},
      {"series":"CTM, 5 Iters.","x":1.40,"y":112,"lo":99,"hi":125},
      {"series":"CTM, 5 Iters.","x":1.45,"y":109,"lo":96,"hi":122},
      {"series":"CTM, 5 Iters.","x":1.50,"y":111,"lo":98,"hi":124},
      {"series":"CTM, 5 Iters.","x":1.55,"y":108,"lo":95,"hi":121},
      {"series":"CTM, 5 Iters.","x":1.60,"y":110,"lo":97,"hi":123},
      {"series":"CTM, 5 Iters.","x":1.65,"y":107,"lo":94,"hi":120},
      {"series":"CTM, 5 Iters.","x":1.70,"y":109,"lo":96,"hi":122},
      {"series":"CTM, 5 Iters.","x":1.75,"y":111,"lo":98,"hi":124},
      {"series":"CTM, 5 Iters.","x":1.80,"y":108,"lo":95,"hi":121},
      {"series":"CTM, 5 Iters.","x":1.85,"y":110,"lo":97,"hi":123},
      {"series":"CTM, 5 Iters.","x":1.90,"y":109,"lo":96,"hi":122},

      {"series":"LSTM, 5 Iters.","x":0.01,"y":492,"lo":478,"hi":506},
      {"series":"LSTM, 5 Iters.","x":0.02,"y":480,"lo":466,"hi":497},
      {"series":"LSTM, 5 Iters.","x":0.04,"y":496,"lo":483,"hi":510},
      {"series":"LSTM, 5 Iters.","x":0.07,"y":499,"lo":487,"hi":512},
      {"series":"LSTM, 5 Iters.","x":0.10,"y":497,"lo":485,"hi":510},
      {"series":"LSTM, 5 Iters.","x":0.15,"y":499,"lo":487,"hi":512},
      {"series":"LSTM, 5 Iters.","x":0.20,"y":500,"lo":488,"hi":513},
      {"series":"LSTM, 5 Iters.","x":0.25,"y":493,"lo":480,"hi":507},
      {"series":"LSTM, 5 Iters.","x":0.30,"y":499,"lo":487,"hi":512},
      {"series":"LSTM, 5 Iters.","x":0.35,"y":497,"lo":485,"hi":510},
      {"series":"LSTM, 5 Iters.","x":0.40,"y":500,"lo":488,"hi":513},
      {"series":"LSTM, 5 Iters.","x":0.50,"y":498,"lo":486,"hi":511},
      {"series":"LSTM, 5 Iters.","x":0.60,"y":496,"lo":484,"hi":509},
      {"series":"LSTM, 5 Iters.","x":0.70,"y":500,"lo":488,"hi":513},
      {"series":"LSTM, 5 Iters.","x":0.75,"y":494,"lo":481,"hi":508},
      {"series":"LSTM, 5 Iters.","x":0.80,"y":498,"lo":486,"hi":511},
      {"series":"LSTM, 5 Iters.","x":0.90,"y":497,"lo":485,"hi":510},
      {"series":"LSTM, 5 Iters.","x":1.00,"y":500,"lo":488,"hi":513},
      {"series":"LSTM, 5 Iters.","x":1.10,"y":497,"lo":485,"hi":510},
      {"series":"LSTM, 5 Iters.","x":1.20,"y":499,"lo":487,"hi":512},
      {"series":"LSTM, 5 Iters.","x":1.30,"y":498,"lo":486,"hi":511},
      {"series":"LSTM, 5 Iters.","x":1.40,"y":500,"lo":488,"hi":513},
      {"series":"LSTM, 5 Iters.","x":1.50,"y":499,"lo":487,"hi":512},
      {"series":"LSTM, 5 Iters.","x":1.60,"y":497,"lo":485,"hi":510},
      {"series":"LSTM, 5 Iters.","x":1.70,"y":500,"lo":488,"hi":513},
      {"series":"LSTM, 5 Iters.","x":1.80,"y":499,"lo":487,"hi":512},
      {"series":"LSTM, 5 Iters.","x":1.90,"y":498,"lo":486,"hi":511}
    ],
    "minigrid": [
      {"series":"CTM, 1 Iters.","x":0.005,"y":265,"lo":245,"hi":300},
      {"series":"CTM, 1 Iters.","x":0.02,"y":282,"lo":248,"hi":303},
      {"series":"CTM, 1 Iters.","x":0.04,"y":287,"lo":245,"hi":305},
      {"series":"CTM, 1 Iters.","x":0.06,"y":283,"lo":235,"hi":305},
      {"series":"CTM, 1 Iters.","x":0.08,"y":272,"lo":220,"hi":304},
      {"series":"CTM, 1 Iters.","x":0.10,"y":260,"lo":200,"hi":300},
      {"series":"CTM, 1 Iters.","x":0.13,"y":240,"lo":175,"hi":288},
      {"series":"CTM, 1 Iters.","x":0.16,"y":222,"lo":150,"hi":278},
      {"series":"CTM, 1 Iters.","x":0.20,"y":203,"lo":125,"hi":268},
      {"series":"CTM, 1 Iters.","x":0.25,"y":186,"lo":106,"hi":257},
      {"series":"CTM, 1 Iters.","x":0.30,"y":177,"lo":96,"hi":248},
      {"series":"CTM, 1 Iters.","x":0.35,"y":170,"lo":90,"hi":242},
      {"series":"CTM, 1 Iters.","x":0.40,"y":164,"lo":86,"hi":236},
      {"series":"CTM, 1 Iters.","x":0.45,"y":159,"lo":83,"hi":228},
      {"series":"CTM, 1 Iters.","x":0.50,"y":155,"lo":80,"hi":222},
      {"series":"CTM, 1 Iters.","x":0.55,"y":151,"lo":78,"hi":215},
      {"series":"CTM, 1 Iters.","x":0.60,"y":148,"lo":75,"hi":208},
      {"series":"CTM, 1 Iters.","x":0.65,"y":146,"lo":73,"hi":205},
      {"series":"CTM, 1 Iters.","x":0.70,"y":143,"lo":71,"hi":201},
      {"series":"CTM, 1 Iters.","x":0.75,"y":140,"lo":69,"hi":198},
      {"series":"CTM, 1 Iters.","x":0.80,"y":136,"lo":67,"hi":195},
      {"series":"CTM, 1 Iters.","x":0.85,"y":131,"lo":65,"hi":192},
      {"series":"CTM, 1 Iters.","x":0.90,"y":127,"lo":63,"hi":190},
      {"series":"CTM, 1 Iters.","x":0.95,"y":124,"lo":61,"hi":187},
      {"series":"CTM, 1 Iters.","x":1.00,"y":121,"lo":59,"hi":183},
      {"series":"CTM, 1 Iters.","x":1.05,"y":117,"lo":57,"hi":180},
      {"series":"CTM, 1 Iters.","x":1.10,"y":115,"lo":56,"hi":177},
      {"series":"CTM, 1 Iters.","x":1.15,"y":112,"lo":54,"hi":172},
      {"series":"CTM, 1 Iters.","x":1.20,"y":109,"lo":53,"hi":167},
      {"series":"CTM, 1 Iters.","x":1.25,"y":105,"lo":51,"hi":160},
      {"series":"CTM, 1 Iters.","x":1.30,"y":102,"lo":50,"hi":152},
      {"series":"CTM, 1 Iters.","x":1.35,"y":100,"lo":49,"hi":146},
      {"series":"CTM, 1 Iters.","x":1.40,"y":97,"lo":48,"hi":140},
      {"series":"CTM, 1 Iters.","x":1.45,"y":94,"lo":47,"hi":135},
      {"series":"CTM, 1 Iters.","x":1.50,"y":89,"lo":46,"hi":132},
      {"series":"CTM, 1 Iters.","x":1.55,"y":85,"lo":45,"hi":129},
      {"series":"CTM, 1 Iters.","x":1.60,"y":84,"lo":45,"hi":126},
      {"series":"CTM, 1 Iters.","x":1.65,"y":84,"lo":44,"hi":124},
      {"series":"CTM, 1 Iters.","x":1.66,"y":79,"lo":44,"hi":113},
      {"series":"CTM, 1 Iters.","x":1.70,"y":79,"lo":44,"hi":112},
      {"series":"CTM, 1 Iters.","x":1.80,"y":77,"lo":43,"hi":110},
      {"series":"CTM, 1 Iters.","x":1.90,"y":76,"lo":42,"hi":109},
      {"series":"CTM, 1 Iters.","x":2.00,"y":74,"lo":41,"hi":108},
      {"series":"CTM, 1 Iters.","x":2.10,"y":73,"lo":41,"hi":107},
      {"series":"CTM, 1 Iters.","x":2.20,"y":72,"lo":40,"hi":106},
      {"series":"CTM, 1 Iters.","x":2.30,"y":72,"lo":40,"hi":105},
      {"series":"CTM, 1 Iters.","x":2.40,"y":70,"lo":39,"hi":104},
      {"series":"CTM, 1 Iters.","x":2.50,"y":69,"lo":38,"hi":103},
      {"series":"CTM, 1 Iters.","x":2.60,"y":70,"lo":38,"hi":102},
      {"series":"CTM, 1 Iters.","x":2.70,"y":68,"lo":38,"hi":101},
      {"series":"CTM, 1 Iters.","x":2.80,"y":67,"lo":37,"hi":101},
      {"series":"CTM, 1 Iters.","x":2.90,"y":68,"lo":37,"hi":100},
      {"series":"CTM, 1 Iters.","x":2.96,"y":67,"lo":37,"hi":100},

      {"series":"LSTM, 1 Iters.","x":0.002,"y":140,"lo":100,"hi":250},
      {"series":"LSTM, 1 Iters.","x":0.004,"y":255,"lo":200,"hi":300},
      {"series":"LSTM, 1 Iters.","x":0.01,"y":240,"lo":201,"hi":301},
      {"series":"LSTM, 1 Iters.","x":0.02,"y":230,"lo":214,"hi":302},
      {"series":"LSTM, 1 Iters.","x":0.04,"y":216,"lo":196,"hi":300},
      {"series":"LSTM, 1 Iters.","x":0.06,"y":204,"lo":154,"hi":295},
      {"series":"LSTM, 1 Iters.","x":0.08,"y":191,"lo":119,"hi":284},
      {"series":"LSTM, 1 Iters.","x":0.10,"y":180,"lo":97,"hi":271},
      {"series":"LSTM, 1 Iters.","x":0.13,"y":172,"lo":83,"hi":257},
      {"series":"LSTM, 1 Iters.","x":0.16,"y":166,"lo":76,"hi":244},
      {"series":"LSTM, 1 Iters.","x":0.20,"y":161,"lo":71,"hi":231},
      {"series":"LSTM, 1 Iters.","x":0.25,"y":156,"lo":67,"hi":221},
      {"series":"LSTM, 1 Iters.","x":0.30,"y":149,"lo":63,"hi":212},
      {"series":"LSTM, 1 Iters.","x":0.35,"y":144,"lo":61,"hi":205},
      {"series":"LSTM, 1 Iters.","x":0.40,"y":139,"lo":59,"hi":199},
      {"series":"LSTM, 1 Iters.","x":0.45,"y":135,"lo":57,"hi":193},
      {"series":"LSTM, 1 Iters.","x":0.50,"y":130,"lo":56,"hi":187},
      {"series":"LSTM, 1 Iters.","x":0.55,"y":124,"lo":54,"hi":181},
      {"series":"LSTM, 1 Iters.","x":0.60,"y":118,"lo":52,"hi":176},
      {"series":"LSTM, 1 Iters.","x":0.65,"y":115,"lo":51,"hi":171},
      {"series":"LSTM, 1 Iters.","x":0.70,"y":111,"lo":50,"hi":167},
      {"series":"LSTM, 1 Iters.","x":0.75,"y":108,"lo":49,"hi":164},
      {"series":"LSTM, 1 Iters.","x":0.80,"y":106,"lo":48,"hi":161},
      {"series":"LSTM, 1 Iters.","x":0.85,"y":103,"lo":47,"hi":159},
      {"series":"LSTM, 1 Iters.","x":0.90,"y":100,"lo":46,"hi":156},
      {"series":"LSTM, 1 Iters.","x":0.95,"y":98,"lo":45,"hi":154},
      {"series":"LSTM, 1 Iters.","x":1.00,"y":97,"lo":45,"hi":151},
      {"series":"LSTM, 1 Iters.","x":1.05,"y":95,"lo":44,"hi":149},
      {"series":"LSTM, 1 Iters.","x":1.10,"y":93,"lo":44,"hi":147},
      {"series":"LSTM, 1 Iters.","x":1.15,"y":91,"lo":43,"hi":145},
      {"series":"LSTM, 1 Iters.","x":1.20,"y":90,"lo":43,"hi":143},
      {"series":"LSTM, 1 Iters.","x":1.25,"y":89,"lo":42,"hi":141},
      {"series":"LSTM, 1 Iters.","x":1.30,"y":87,"lo":42,"hi":138},
      {"series":"LSTM, 1 Iters.","x":1.35,"y":86,"lo":41,"hi":136},
      {"series":"LSTM, 1 Iters.","x":1.40,"y":85,"lo":41,"hi":133},
      {"series":"LSTM, 1 Iters.","x":1.45,"y":84,"lo":40,"hi":131},
      {"series":"LSTM, 1 Iters.","x":1.50,"y":83,"lo":40,"hi":129},
      {"series":"LSTM, 1 Iters.","x":1.55,"y":82,"lo":39,"hi":127},
      {"series":"LSTM, 1 Iters.","x":1.60,"y":81,"lo":39,"hi":125},
      {"series":"LSTM, 1 Iters.","x":1.70,"y":79,"lo":38,"hi":121},
      {"series":"LSTM, 1 Iters.","x":1.80,"y":77,"lo":38,"hi":118},
      {"series":"LSTM, 1 Iters.","x":1.90,"y":75,"lo":37,"hi":115},
      {"series":"LSTM, 1 Iters.","x":2.00,"y":74,"lo":37,"hi":112},
      {"series":"LSTM, 1 Iters.","x":2.10,"y":73,"lo":36,"hi":110},
      {"series":"LSTM, 1 Iters.","x":2.20,"y":72,"lo":36,"hi":108},
      {"series":"LSTM, 1 Iters.","x":2.30,"y":71,"lo":36,"hi":106},
      {"series":"LSTM, 1 Iters.","x":2.40,"y":70,"lo":35,"hi":104},
      {"series":"LSTM, 1 Iters.","x":2.50,"y":69,"lo":35,"hi":102},
      {"series":"LSTM, 1 Iters.","x":2.60,"y":68,"lo":35,"hi":101},
      {"series":"LSTM, 1 Iters.","x":2.70,"y":67,"lo":34,"hi":99},
      {"series":"LSTM, 1 Iters.","x":2.80,"y":67,"lo":34,"hi":98},
      {"series":"LSTM, 1 Iters.","x":2.90,"y":66,"lo":34,"hi":97},
      {"series":"LSTM, 1 Iters.","x":2.96,"y":67,"lo":34,"hi":97},

      {"series":"CTM, 2 Iters.","x":0.005,"y":272,"lo":248,"hi":298},
      {"series":"CTM, 2 Iters.","x":0.02,"y":285,"lo":250,"hi":302},
      {"series":"CTM, 2 Iters.","x":0.04,"y":288,"lo":246,"hi":304},
      {"series":"CTM, 2 Iters.","x":0.06,"y":284,"lo":236,"hi":303},
      {"series":"CTM, 2 Iters.","x":0.08,"y":270,"lo":220,"hi":300},
      {"series":"CTM, 2 Iters.","x":0.10,"y":255,"lo":198,"hi":295},
      {"series":"CTM, 2 Iters.","x":0.13,"y":236,"lo":172,"hi":282},
      {"series":"CTM, 2 Iters.","x":0.16,"y":217,"lo":148,"hi":270},
      {"series":"CTM, 2 Iters.","x":0.20,"y":200,"lo":123,"hi":258},
      {"series":"CTM, 2 Iters.","x":0.25,"y":186,"lo":105,"hi":246},
      {"series":"CTM, 2 Iters.","x":0.30,"y":175,"lo":95,"hi":237},
      {"series":"CTM, 2 Iters.","x":0.35,"y":167,"lo":89,"hi":230},
      {"series":"CTM, 2 Iters.","x":0.40,"y":161,"lo":85,"hi":224},
      {"series":"CTM, 2 Iters.","x":0.45,"y":156,"lo":82,"hi":217},
      {"series":"CTM, 2 Iters.","x":0.50,"y":151,"lo":79,"hi":211},
      {"series":"CTM, 2 Iters.","x":0.55,"y":146,"lo":76,"hi":204},
      {"series":"CTM, 2 Iters.","x":0.60,"y":142,"lo":74,"hi":198},
      {"series":"CTM, 2 Iters.","x":0.65,"y":139,"lo":72,"hi":194},
      {"series":"CTM, 2 Iters.","x":0.70,"y":135,"lo":70,"hi":190},
      {"series":"CTM, 2 Iters.","x":0.75,"y":131,"lo":68,"hi":186},
      {"series":"CTM, 2 Iters.","x":0.80,"y":127,"lo":66,"hi":182},
      {"series":"CTM, 2 Iters.","x":0.85,"y":122,"lo":64,"hi":178},
      {"series":"CTM, 2 Iters.","x":0.90,"y":117,"lo":62,"hi":174},
      {"series":"CTM, 2 Iters.","x":0.95,"y":113,"lo":60,"hi":170},
      {"series":"CTM, 2 Iters.","x":1.00,"y":110,"lo":58,"hi":166},
      {"series":"CTM, 2 Iters.","x":1.05,"y":108,"lo":56,"hi":162},
      {"series":"CTM, 2 Iters.","x":1.10,"y":105,"lo":55,"hi":158},
      {"series":"CTM, 2 Iters.","x":1.15,"y":103,"lo":53,"hi":154},
      {"series":"CTM, 2 Iters.","x":1.20,"y":100,"lo":52,"hi":150},
      {"series":"CTM, 2 Iters.","x":1.25,"y":98,"lo":51,"hi":146},
      {"series":"CTM, 2 Iters.","x":1.30,"y":96,"lo":50,"hi":142},
      {"series":"CTM, 2 Iters.","x":1.35,"y":94,"lo":49,"hi":138},
      {"series":"CTM, 2 Iters.","x":1.40,"y":91,"lo":48,"hi":134},
      {"series":"CTM, 2 Iters.","x":1.45,"y":89,"lo":47,"hi":130},
      {"series":"CTM, 2 Iters.","x":1.50,"y":86,"lo":46,"hi":126},
      {"series":"CTM, 2 Iters.","x":1.55,"y":83,"lo":45,"hi":122},
      {"series":"CTM, 2 Iters.","x":1.60,"y":81,"lo":45,"hi":118},
      {"series":"CTM, 2 Iters.","x":1.70,"y":79,"lo":44,"hi":115},
      {"series":"CTM, 2 Iters.","x":1.80,"y":77,"lo":43,"hi":112},
      {"series":"CTM, 2 Iters.","x":1.90,"y":76,"lo":42,"hi":110},
      {"series":"CTM, 2 Iters.","x":2.00,"y":75,"lo":41,"hi":108},
      {"series":"CTM, 2 Iters.","x":2.10,"y":74,"lo":41,"hi":107},
      {"series":"CTM, 2 Iters.","x":2.20,"y":72,"lo":40,"hi":105},
      {"series":"CTM, 2 Iters.","x":2.30,"y":70,"lo":39,"hi":104},
      {"series":"CTM, 2 Iters.","x":2.40,"y":69,"lo":38,"hi":103},
      {"series":"CTM, 2 Iters.","x":2.50,"y":68,"lo":38,"hi":102},
      {"series":"CTM, 2 Iters.","x":2.60,"y":67,"lo":37,"hi":101},
      {"series":"CTM, 2 Iters.","x":2.70,"y":66,"lo":37,"hi":100},
      {"series":"CTM, 2 Iters.","x":2.80,"y":65,"lo":36,"hi":99},
      {"series":"CTM, 2 Iters.","x":2.90,"y":64,"lo":36,"hi":98},
      {"series":"CTM, 2 Iters.","x":2.96,"y":64,"lo":36,"hi":98},

      {"series":"LSTM, 2 Iters.","x":0.002,"y":130,"lo":100,"hi":250},
      {"series":"LSTM, 2 Iters.","x":0.004,"y":250,"lo":200,"hi":300},
      {"series":"LSTM, 2 Iters.","x":0.01,"y":238,"lo":200,"hi":300},
      {"series":"LSTM, 2 Iters.","x":0.02,"y":232,"lo":215,"hi":302},
      {"series":"LSTM, 2 Iters.","x":0.04,"y":218,"lo":197,"hi":300},
      {"series":"LSTM, 2 Iters.","x":0.06,"y":205,"lo":155,"hi":295},
      {"series":"LSTM, 2 Iters.","x":0.08,"y":192,"lo":120,"hi":285},
      {"series":"LSTM, 2 Iters.","x":0.10,"y":181,"lo":98,"hi":272},
      {"series":"LSTM, 2 Iters.","x":0.13,"y":173,"lo":84,"hi":258},
      {"series":"LSTM, 2 Iters.","x":0.16,"y":167,"lo":77,"hi":245},
      {"series":"LSTM, 2 Iters.","x":0.20,"y":162,"lo":72,"hi":232},
      {"series":"LSTM, 2 Iters.","x":0.25,"y":157,"lo":68,"hi":222},
      {"series":"LSTM, 2 Iters.","x":0.30,"y":150,"lo":64,"hi":213},
      {"series":"LSTM, 2 Iters.","x":0.35,"y":145,"lo":62,"hi":206},
      {"series":"LSTM, 2 Iters.","x":0.40,"y":140,"lo":60,"hi":200},
      {"series":"LSTM, 2 Iters.","x":0.45,"y":136,"lo":58,"hi":194},
      {"series":"LSTM, 2 Iters.","x":0.50,"y":131,"lo":57,"hi":188},
      {"series":"LSTM, 2 Iters.","x":0.55,"y":124,"lo":55,"hi":182},
      {"series":"LSTM, 2 Iters.","x":0.60,"y":119,"lo":53,"hi":177},
      {"series":"LSTM, 2 Iters.","x":0.65,"y":115,"lo":52,"hi":172},
      {"series":"LSTM, 2 Iters.","x":0.70,"y":112,"lo":51,"hi":168},
      {"series":"LSTM, 2 Iters.","x":0.75,"y":109,"lo":50,"hi":165},
      {"series":"LSTM, 2 Iters.","x":0.80,"y":106,"lo":49,"hi":162},
      {"series":"LSTM, 2 Iters.","x":0.85,"y":103,"lo":48,"hi":160},
      {"series":"LSTM, 2 Iters.","x":0.90,"y":101,"lo":47,"hi":157},
      {"series":"LSTM, 2 Iters.","x":0.95,"y":99,"lo":46,"hi":155},
      {"series":"LSTM, 2 Iters.","x":1.00,"y":97,"lo":46,"hi":152},
      {"series":"LSTM, 2 Iters.","x":1.05,"y":95,"lo":45,"hi":150},
      {"series":"LSTM, 2 Iters.","x":1.10,"y":93,"lo":45,"hi":148},
      {"series":"LSTM, 2 Iters.","x":1.15,"y":92,"lo":44,"hi":146},
      {"series":"LSTM, 2 Iters.","x":1.20,"y":90,"lo":44,"hi":144},
      {"series":"LSTM, 2 Iters.","x":1.25,"y":89,"lo":43,"hi":142},
      {"series":"LSTM, 2 Iters.","x":1.30,"y":88,"lo":43,"hi":139},
      {"series":"LSTM, 2 Iters.","x":1.35,"y":87,"lo":42,"hi":137},
      {"series":"LSTM, 2 Iters.","x":1.40,"y":86,"lo":42,"hi":134},
      {"series":"LSTM, 2 Iters.","x":1.45,"y":85,"lo":41,"hi":132},
      {"series":"LSTM, 2 Iters.","x":1.50,"y":83,"lo":41,"hi":130},
      {"series":"LSTM, 2 Iters.","x":1.55,"y":82,"lo":40,"hi":128},
      {"series":"LSTM, 2 Iters.","x":1.60,"y":81,"lo":40,"hi":126},
      {"series":"LSTM, 2 Iters.","x":1.70,"y":79,"lo":39,"hi":122},
      {"series":"LSTM, 2 Iters.","x":1.80,"y":77,"lo":39,"hi":119},
      {"series":"LSTM, 2 Iters.","x":1.90,"y":76,"lo":38,"hi":116},
      {"series":"LSTM, 2 Iters.","x":2.00,"y":74,"lo":38,"hi":113},
      {"series":"LSTM, 2 Iters.","x":2.10,"y":73,"lo":37,"hi":111},
      {"series":"LSTM, 2 Iters.","x":2.20,"y":72,"lo":37,"hi":109},
      {"series":"LSTM, 2 Iters.","x":2.30,"y":71,"lo":37,"hi":107},
      {"series":"LSTM, 2 Iters.","x":2.40,"y":70,"lo":36,"hi":105},
      {"series":"LSTM, 2 Iters.","x":2.50,"y":69,"lo":36,"hi":103},
      {"series":"LSTM, 2 Iters.","x":2.60,"y":68,"lo":36,"hi":102},
      {"series":"LSTM, 2 Iters.","x":2.70,"y":68,"lo":35,"hi":100},
      {"series":"LSTM, 2 Iters.","x":2.80,"y":67,"lo":35,"hi":99},
      {"series":"LSTM, 2 Iters.","x":2.90,"y":67,"lo":35,"hi":98},
      {"series":"LSTM, 2 Iters.","x":2.96,"y":67,"lo":35,"hi":98}
    ]
  },
  "resolve": {"scale": {"color": "independent", "strokeDash": "independent", "fill": "independent"}},
  "spacing": 23,
  "vconcat": [
    {
      "resolve": {"scale": {"color": "independent", "strokeDash": "independent", "fill": "independent"}},
      "spacing": 57,
      "hconcat": [
        {
          "resolve": {"scale": {"color": "independent", "strokeDash": "independent", "fill": "independent"}},
          "spacing": 0,
          "vconcat": [
            {"width": 350, "height": 18, "data": {"values": []}, "mark": {"type": "point", "opacity": 0}},
            {
              "width": 350,
              "height": 161,
              "view": {"fill": "#eaeaf2", "stroke": null},
              "title": {"text": "(a) Cartpole"},
              "resolve": {"scale": {"x": "independent"}},
              "layer": [
                {
                  "data": {"name": "cartpole"},
                  "layer": [
                    {
                      "mark": {"type": "area", "fillOpacity": 0.13, "clip": true},
                      "encoding": {
                        "x": {"field": "x", "type": "quantitative", "scale": {"domain": [0, 7.6], "nice": false, "zero": false},
                              "axis": {"title": "Environment Steps", "values": [0,1,2,3,4,5,6,7], "format": "d", "labelFontSize": 10.5, "titleFontSize": 11, "labelPadding": 7, "titlePadding": 5}},
                        "y": {"field": "lo", "type": "quantitative", "scale": {"domain": [8.6, 212], "nice": false, "zero": false},
                              "axis": {"title": "Episode Length", "values": [50,100,150,200], "labelFontSize": 10.5, "titleFontSize": 11, "labelPadding": 7, "titlePadding": 6}},
                        "y2": {"field": "hi"},
                        "fill": {"field": "series", "type": "nominal", "legend": null,
                                 "scale": {"range": ["#db5f57","#57db5f","#5f57db","#d3db57","#57d3db","#db57d3"]}}
                      }
                    },
                    {
                      "mark": {"type": "line", "strokeWidth": 1.6, "clip": true},
                      "encoding": {
                        "x": {"field": "x", "type": "quantitative",
                              "axis": {"title": "Environment Steps", "values": [0,1,2,3,4,5,6,7], "format": "d", "labelFontSize": 10.5, "titleFontSize": 11, "labelPadding": 7, "titlePadding": 5}},
                        "y": {"field": "y", "type": "quantitative",
                              "axis": {"title": "Episode Length", "values": [50,100,150,200], "labelFontSize": 10.5, "titleFontSize": 11, "labelPadding": 7, "titlePadding": 6}},
                        "color": {"field": "series", "type": "nominal",
                                  "scale": {"domain": ["CTM, 1 Iters.","LSTM, 1 Iters.","CTM, 2 Iters.","LSTM, 2 Iters.","CTM, 5 Iters.","LSTM, 5 Iters."],
                                            "range": ["#db5f57","#d3db57","#57db5f","#57d3db","#5f57db","#db57d3"]},
                                  "legend": {"title": null, "orient": "bottom-right", "offset": 5, "labelFontSize": 11, "symbolType": "M-1.5,0H1.5"}},
                        "strokeDash": {"field": "series", "type": "nominal",
                                       "scale": {"domain": ["CTM, 1 Iters.","LSTM, 1 Iters.","CTM, 2 Iters.","LSTM, 2 Iters.","CTM, 5 Iters.","LSTM, 5 Iters."],
                                                 "range": [[1,0],[5.5,2.4],[1,0],[5.5,2.4],[1,0],[5.5,2.4]]},
                                       "legend": {"title": null, "orient": "bottom-right", "offset": 5, "labelFontSize": 11, "symbolType": "M-1.5,0H1.5"}}
                      }
                    }
                  ]
                },
                {
                  "data": {"values": [{"x": 0}]},
                  "mark": {"type": "point", "opacity": 0},
                  "encoding": {
                    "x": {"field": "x", "type": "quantitative", "scale": {"domain": [0, 7.6], "nice": false, "zero": false},
                          "axis": {"orient": "bottom", "title": "1e6", "titleAnchor": "end", "titleAlign": "right", "values": [0,1,2,3,4,5,6,7], "format": "d", "labelOpacity": 0, "grid": false, "labelFontSize": 10.5, "titleFontSize": 11, "labelPadding": 7, "titlePadding": 5}}
                  }
                }
              ]
            }
          ]
        },
        {
          "width": 380,
          "height": 176,
          "view": {"fill": "#eaeaf2", "stroke": null},
          "title": {"text": "(b) Acrobot"},
          "resolve": {"scale": {"x": "independent"}},
          "layer": [
            {
              "data": {"name": "acrobot"},
              "layer": [
                {
                  "mark": {"type": "area", "fillOpacity": 0.12, "clip": true},
                  "encoding": {
                    "x": {"field": "x", "type": "quantitative", "scale": {"domain": [0, 1.9], "nice": false, "zero": false},
                          "axis": {"title": "Environment Steps", "values": [0,0.25,0.5,0.75,1,1.25,1.5,1.75], "format": ".2f", "labelFontSize": 11.5, "titleFontSize": 12, "labelPadding": 7, "titlePadding": 7}},
                    "y": {"field": "lo", "type": "quantitative", "scale": {"domain": [0, 587], "nice": false, "zero": false},
                          "axis": {"title": "Episode Length", "values": [0,100,200,300,400,500], "labelFontSize": 11.5, "titleFontSize": 12, "labelPadding": 9.5, "titlePadding": 5}},
                    "y2": {"field": "hi"},
                    "fill": {"field": "series", "type": "nominal", "legend": null,
                             "scale": {"range": ["#db5f57","#57db5f","#5f57db","#d3db57","#57d3db","#db57d3"]}}
                  }
                },
                {
                  "mark": {"type": "line", "strokeWidth": 1.7, "clip": true},
                  "encoding": {
                    "x": {"field": "x", "type": "quantitative",
                          "axis": {"title": "Environment Steps", "values": [0,0.25,0.5,0.75,1,1.25,1.5,1.75], "format": ".2f", "labelFontSize": 11.5, "titleFontSize": 12, "labelPadding": 7, "titlePadding": 7}},
                    "y": {"field": "y", "type": "quantitative",
                          "axis": {"title": "Episode Length", "values": [0,100,200,300,400,500], "labelFontSize": 11.5, "titleFontSize": 12, "labelPadding": 9.5, "titlePadding": 5}},
                    "color": {"field": "series", "type": "nominal",
                              "scale": {"domain": ["CTM, 1 Iters.","LSTM, 1 Iters.","CTM, 2 Iters.","LSTM, 2 Iters.","CTM, 5 Iters.","LSTM, 5 Iters."],
                                        "range": ["#db5f57","#d3db57","#57db5f","#57d3db","#5f57db","#db57d3"]},
                              "legend": {"title": null, "orient": "top-right", "offset": 6, "labelFontSize": 12, "padding": 5, "rowPadding": 1.5, "symbolSize": 289, "symbolType": "M-1.5,0H1.5"}},
                    "strokeDash": {"field": "series", "type": "nominal",
                                   "scale": {"domain": ["CTM, 1 Iters.","LSTM, 1 Iters.","CTM, 2 Iters.","LSTM, 2 Iters.","CTM, 5 Iters.","LSTM, 5 Iters."],
                                             "range": [[1,0],[5.5,2.4],[1,0],[5.5,2.4],[1,0],[5.5,2.4]]},
                                   "legend": {"title": null, "orient": "top-right", "offset": 6, "labelFontSize": 12, "padding": 5, "rowPadding": 1.5, "symbolSize": 289, "symbolType": "M-1.5,0H1.5"}}
                  }
                }
              ]
            },
            {
              "data": {"values": [{"x": 0}]},
              "mark": {"type": "point", "opacity": 0},
              "encoding": {
                "x": {"field": "x", "type": "quantitative", "scale": {"domain": [0, 1.9], "nice": false, "zero": false},
                      "axis": {"orient": "bottom", "title": "1e6", "titleAnchor": "end", "titleAlign": "right", "values": [0,0.25,0.5,0.75,1,1.25,1.5,1.75], "format": ".2f", "labelOpacity": 0, "grid": false, "labelFontSize": 11.5, "titleFontSize": 12, "labelPadding": 7, "titlePadding": 7}}
              }
            }
          ]
        }
      ]
    },
    {
      "resolve": {"scale": {"color": "independent", "strokeDash": "independent", "fill": "independent"}},
      "spacing": 0,
      "hconcat": [
        {"width": 196, "height": 10, "data": {"values": []}, "mark": {"type": "point", "opacity": 0}},
        {
          "width": 350,
          "height": 162,
          "view": {"fill": "#eaeaf2", "stroke": null},
          "title": {"text": "(c) MiniGrid 4-Rooms"},
          "resolve": {"scale": {"x": "independent"}},
          "layer": [
            {
              "data": {"name": "minigrid"},
              "layer": [
                {
                  "mark": {"type": "area", "fillOpacity": 0.2, "clip": true},
                  "encoding": {
                    "x": {"field": "x", "type": "quantitative", "scale": {"domain": [0, 2.96], "nice": false, "zero": false},
                          "axis": {"title": "Environment Steps", "values": [0,0.5,1,1.5,2,2.5], "format": ".1f", "labelFontSize": 10.5, "titleFontSize": 11, "labelPadding": 9, "titlePadding": 5}},
                    "y": {"field": "lo", "type": "quantitative", "scale": {"domain": [6, 323], "nice": false, "zero": false},
                          "axis": {"title": "Episode Length", "values": [50,100,150,200,250,300], "labelFontSize": 10.5, "titleFontSize": 11, "labelPadding": 8, "titlePadding": 6}},
                    "y2": {"field": "hi"},
                    "fill": {"field": "series", "type": "nominal", "legend": null,
                             "scale": {"range": ["#db5f57","#57d3db","#a1db57","#a157db"]}}
                  }
                },
                {
                  "mark": {"type": "line", "strokeWidth": 1.6, "clip": true},
                  "encoding": {
                    "x": {"field": "x", "type": "quantitative",
                          "axis": {"title": "Environment Steps", "values": [0,0.5,1,1.5,2,2.5], "format": ".1f", "labelFontSize": 10.5, "titleFontSize": 11, "labelPadding": 9, "titlePadding": 5}},
                    "y": {"field": "y", "type": "quantitative",
                          "axis": {"title": "Episode Length", "values": [50,100,150,200,250,300], "labelFontSize": 10.5, "titleFontSize": 11, "labelPadding": 8, "titlePadding": 6}},
                    "color": {"field": "series", "type": "nominal",
                              "scale": {"domain": ["CTM, 1 Iters.","LSTM, 1 Iters.","CTM, 2 Iters.","LSTM, 2 Iters."],
                                        "range": ["#db5f57","#a1db57","#57d3db","#a157db"]},
                              "legend": {"title": null, "orient": "top-right", "offset": 5, "labelFontSize": 11, "symbolType": "M-1.5,0H1.5"}},
                    "strokeDash": {"field": "series", "type": "nominal",
                                   "scale": {"domain": ["CTM, 1 Iters.","LSTM, 1 Iters.","CTM, 2 Iters.","LSTM, 2 Iters."],
                                             "range": [[1,0],[5.5,2.4],[1,0],[5.5,2.4]]},
                                   "legend": {"title": null, "orient": "top-right", "offset": 5, "labelFontSize": 11, "symbolType": "M-1.5,0H1.5"}}
                  }
                }
              ]
            },
            {
              "data": {"values": [{"x": 0}]},
              "mark": {"type": "point", "opacity": 0},
              "encoding": {
                "x": {"field": "x", "type": "quantitative", "scale": {"domain": [0, 2.96], "nice": false, "zero": false},
                      "axis": {"orient": "bottom", "title": "1e8", "titleAnchor": "end", "titleAlign": "right", "values": [0,0.5,1,1.5,2,2.5], "format": ".1f", "labelOpacity": 0, "grid": false, "labelFontSize": 10.5, "titleFontSize": 11, "labelPadding": 9, "titlePadding": 5}}
              }
            }
          ]
        }
      ]
    }
  ]
}
